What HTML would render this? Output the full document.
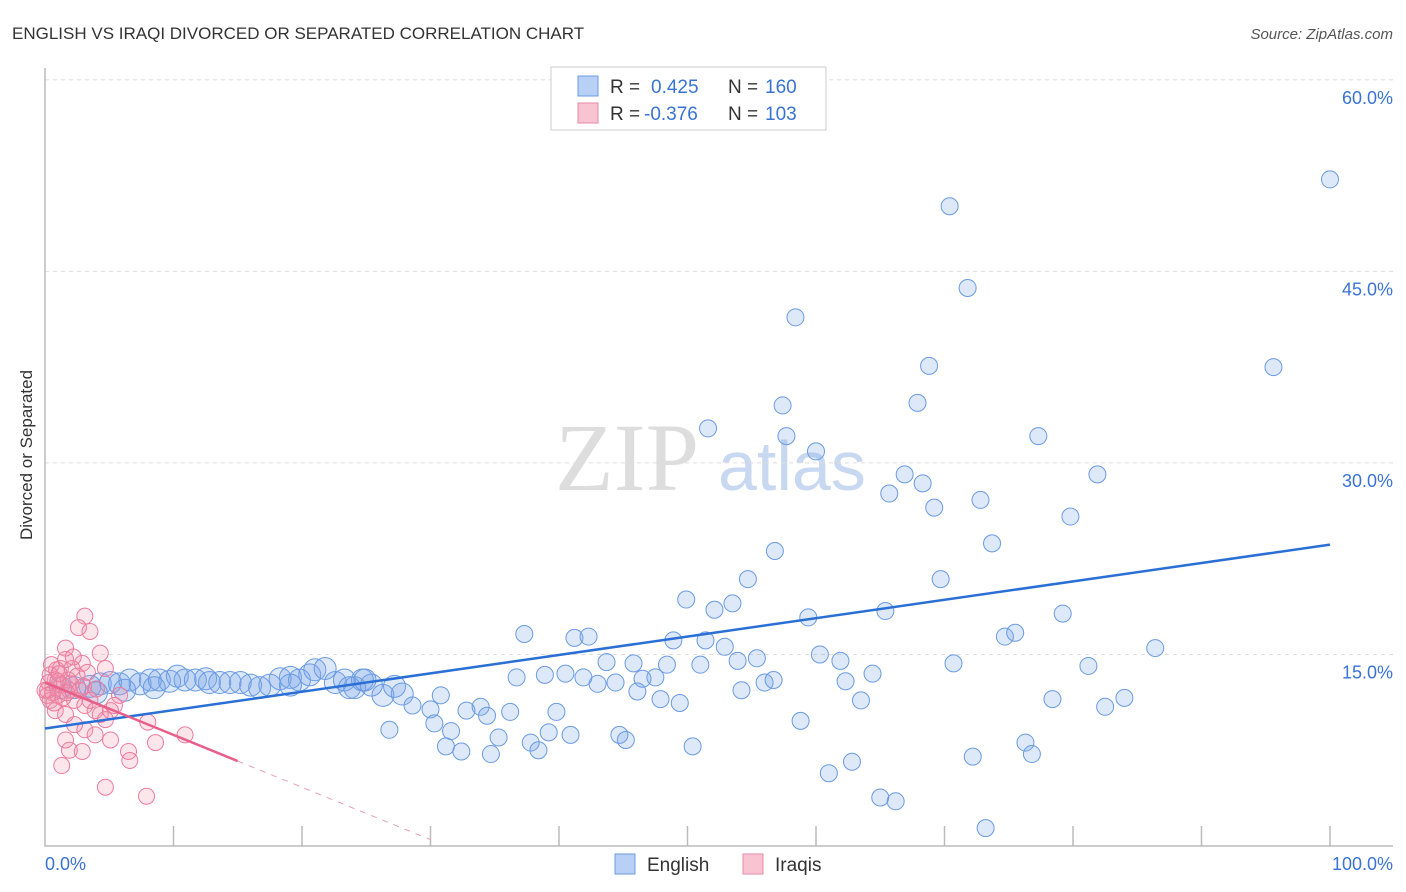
<!DOCTYPE html>
<html><head><meta charset="utf-8"><style>
body{margin:0;background:#fff;font-family:"Liberation Sans",sans-serif}
svg{display:block}
</style></head><body>
<svg id="chart" width="1406" height="892" xmlns="http://www.w3.org/2000/svg">
<text x="12" y="39" font-size="17" fill="#333">ENGLISH VS IRAQI DIVORCED OR SEPARATED CORRELATION CHART</text>
<text x="1393" y="39" font-size="15" fill="#555" font-style="italic" text-anchor="end">Source: ZipAtlas.com</text>
<text x="32" y="455" font-size="17" fill="#333" text-anchor="middle" transform="rotate(-90 32 455)">Divorced or Separated</text>
<g>
<text x="555" y="490" font-size="96" font-family="Liberation Serif,serif" fill="#ddd">ZIP</text>
<text x="718" y="490" font-size="70" fill="#c8d8f0">atlas</text>
</g>
<g id="grid"></g>
<g id="axes"></g>
<g id="pts"></g>
<g id="trend"></g>
<g>
<rect x="551" y="67" width="275" height="63" fill="#fff" stroke="#ccc"/>
<rect x="578" y="76" width="20" height="20" fill="#b8d0f5" stroke="#6a9be0"/>
<text x="610" y="93" font-size="19" fill="#333">R =</text><text x="651" y="93" font-size="19" fill="#3a73d6">0.425</text>
<text x="728" y="93" font-size="19" fill="#333">N =</text><text x="765" y="93" font-size="19" fill="#3a73d6">160</text>
<rect x="578" y="103" width="20" height="20" fill="#f8c4d2" stroke="#e88aa5"/>
<text x="610" y="120" font-size="19" fill="#333">R =</text><text x="644" y="120" font-size="19" fill="#3a73d6">-0.376</text>
<text x="728" y="120" font-size="19" fill="#333">N =</text><text x="765" y="120" font-size="19" fill="#3a73d6">103</text>
</g>
<g>
<rect x="615" y="854" width="20" height="20" fill="#b8d0f5" stroke="#6a9be0"/>
<text x="647" y="871" font-size="19" fill="#333">English</text>
<rect x="743" y="854" width="20" height="20" fill="#f8c4d2" stroke="#e88aa5"/>
<text x="775" y="871" font-size="19" fill="#333">Iraqis</text>
</g>
</svg>
<script>
const yTicks=[15,30,45,60];
const xTickLabels=["0.0%","100.0%"];
const blueX=[100,70.4,71.8,58.4,68.8,95.6,67.9,57.4,51.6,57.7,77.3,60.0,66.9,65.7,81.9,68.3,69.2,72.8,79.8,73.7,56.8,54.7,69.7,49.9,53.5,52.1,59.4,65.4,79.2,74.7,75.5,37.3,41.2,42.3,48.9,51.4,52.9,60.3,86.4,43.7,45.8,48.4,51.0,53.9,55.4,61.9,70.7,81.2,64.4,36.7,38.9,40.5,41.9,43.0,44.4,46.5,47.5,56.0,56.7,62.3,54.2,46.1,47.9,49.4,63.5,78.4,84.0,82.5,30.8,28.6,30.0,32.8,33.9,34.4,36.2,39.8,44.7,45.2,58.8,26.8,30.3,31.6,31.2,32.4,35.3,34.7,37.8,38.4,40.9,39.2,50.4,62.8,61.0,76.3,72.2,76.8,65.0,66.2,73.2];
const blueY=[52.2,50.1,43.7,41.4,37.6,37.5,34.7,34.5,32.7,32.1,32.1,30.9,29.1,27.6,29.1,28.4,26.5,27.1,25.8,23.7,23.1,20.9,20.9,19.3,19.0,18.5,17.9,18.4,18.2,16.4,16.7,16.6,16.3,16.4,16.1,16.1,15.6,15.0,15.5,14.4,14.3,14.2,14.2,14.5,14.7,14.5,14.3,14.1,13.5,13.2,13.4,13.5,13.2,12.7,12.8,13.1,13.2,12.8,13.0,12.9,12.2,12.1,11.5,11.2,11.4,11.5,11.6,10.9,11.8,11.0,10.7,10.6,10.9,10.2,10.5,10.5,8.7,8.3,9.8,9.1,9.6,9.0,7.8,7.4,8.5,7.2,8.1,7.5,8.7,8.9,7.8,6.6,5.7,8.1,7.0,7.2,3.8,3.5,1.4];
const clusterX=[1.2,2.3,3.5,4.3,5.1,5.8,6.6,7.4,8.2,8.9,9.7,10.3,10.9,11.7,12.5,12.8,13.6,14.4,15.2,16.0,16.7,17.5,18.3,19.1,19.8,20.6,21.0,21.8,22.6,23.3,24.1,24.7,25.4,26.3,27.2,27.8,23.7,24.9,19.1,8.5,6.2,4.0];
const clusterY=[12.4,12.4,12.5,12.7,12.8,12.7,13.0,12.7,13.0,13.0,12.9,13.3,13.0,13.0,13.1,12.8,12.8,12.8,12.8,12.6,12.4,12.6,13.1,13.2,13.0,13.4,13.8,13.9,12.8,13.0,12.4,13.0,12.6,11.8,12.5,11.9,12.4,13.0,12.6,12.4,12.2,12.0];
const pinkX=[3.1,2.6,3.5,1.6,4.3,1.2,2.1,2.9,4.7,0.8,1.3,1.9,2.3,3.1,3.9,4.3,5.1,5.4,5.8,0.4,0.8,1.6,2.3,3.1,3.9,4.7,1.6,1.9,2.9,5.1,6.5,6.6,8.6,8.0,10.9,1.3,4.7,7.9,0,0.4,1.0,1.8,2.7,3.5,0.2,0.5,0.9,1.6,0.3,0.6,1.0,1.4,2.0,2.5,3.0,0.2,1.1,1.7,4.0,3.3,2.2,0.7];
const pinkY=[18.0,17.1,16.8,15.5,15.1,13.9,13.9,14.3,13.9,13.0,12.6,12.2,11.4,11.0,10.6,10.3,10.6,11.0,11.8,11.4,10.6,10.3,9.5,9.1,8.7,9.9,8.3,7.5,7.4,8.3,7.4,6.7,8.1,9.7,8.7,6.3,4.6,3.9,12.2,13.4,11.8,13.0,12.2,11.4,12.2,14.2,13.8,14.6,12.8,12.0,12.9,11.6,12.7,13.3,12.5,11.8,13.5,12.0,12.3,13.6,14.8,11.2];
const blueTrend=[9.2,23.6];
const pinkTrend=[12.8,-0.41];
const pinkSolidEnd=15, pinkDashEnd=30;
const NS="http://www.w3.org/2000/svg";
const X=v=>45+v*12.85, Y=v=>846-v*12.77;
function mk(t,a,p){const e=document.createElementNS(NS,t);for(const k in a)e.setAttribute(k,a[k]);document.getElementById(p).appendChild(e);return e;}
yTicks.forEach(t=>{
 const l=mk('line',{x1:45,x2:1393,y1:Y(t),y2:Y(t),stroke:'#ddd','stroke-dasharray':'4,4'},'grid');
 
 
 const s=mk('text',{x:1393,y:Y(t)+24,'font-size':18,fill:'#3a73d6','text-anchor':'end'},'grid');
 s.textContent=t.toFixed(1)+'%';
 
 
});
let ax=mk('path',{d:'M45 68V846H1393',fill:'none',stroke:'#bbb','stroke-width':1.5},'axes');


for(let k=1;k<=10;k++){const t=mk('line',{x1:X(k*10),x2:X(k*10),y1:826,y2:846,stroke:'#bbb','stroke-width':1.5},'axes');
 
 }
[[0,'start',45],[100,'end',1393]].forEach((d,i)=>{const s=mk('text',{x:d[2],y:870,'font-size':18,fill:'#3a73d6','text-anchor':d[1]},'axes');s.textContent=xTickLabels[i];
 
 });
clusterX.forEach((x,i)=>{const c=mk('circle',{cx:X(x),cy:Y(clusterY[i]),r:11,fill:'rgba(120,165,230,0.25)',stroke:'#6a9be3','stroke-width':1},'pts');
 
 });
blueX.forEach((x,i)=>{const c=mk('circle',{cx:X(x),cy:Y(blueY[i]),r:8.5,fill:'rgba(120,165,230,0.25)',stroke:'#6a9be3','stroke-width':1},'pts');
 
 });
pinkX.forEach((x,i)=>{const c=mk('circle',{cx:X(x),cy:Y(pinkY[i]),r:8,fill:'rgba(240,140,170,0.22)',stroke:'#ec7c9c','stroke-width':1},'pts');
 
 });
let b=mk('line',{x1:X(0),y1:Y(blueTrend[0]),x2:X(100),y2:Y(blueTrend[1]),stroke:'#2a6fd6','stroke-width':2.5},'trend');


const pf=x=>pinkTrend[0]+pinkTrend[1]*x;
let p=mk('line',{x1:X(0),y1:Y(pf(0)),x2:X(pinkSolidEnd),y2:Y(pf(pinkSolidEnd)),stroke:'#e8608a','stroke-width':2.5},'trend');


let pd=mk('line',{x1:X(pinkSolidEnd),y1:Y(pf(pinkSolidEnd)),x2:X(pinkDashEnd),y2:Y(pf(pinkDashEnd)),stroke:'#e8a0b5','stroke-width':1,'stroke-dasharray':'6,6'},'trend');


</script>
</body></html>
